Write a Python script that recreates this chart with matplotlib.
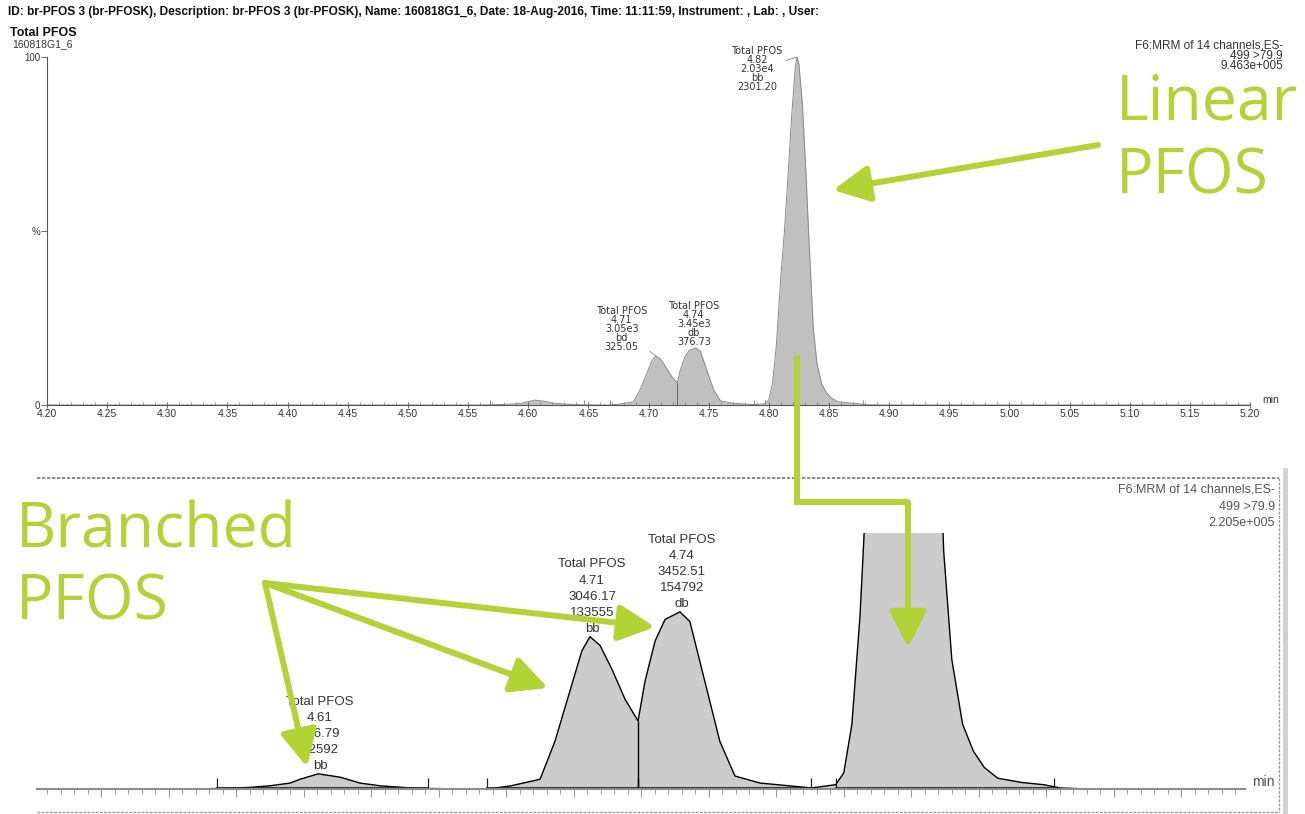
import numpy as np
import matplotlib
matplotlib.use("Agg")
from matplotlib import pyplot as plt
from matplotlib.ticker import MultipleLocator

# chromatogram trace, Total PFOS
rt = [4.20, 4.56, 4.568, 4.58, 4.5875, 4.595, 4.5986, 4.6053, 4.6134, 4.6208,
      4.6282, 4.6393, 4.646, 4.66, 4.668, 4.6764, 4.6875, 4.693, 4.6986, 4.703,
      4.706, 4.7097, 4.7141, 4.719, 4.7238, 4.7264, 4.7301, 4.7338, 4.7393, 4.743,
      4.7467, 4.7504, 4.7541, 4.7597, 4.769, 4.7838, 4.7882, 4.797, 4.800, 4.803,
      4.806, 4.808, 4.810, 4.813, 4.816, 4.819, 4.822, 4.8235, 4.825, 4.828,
      4.831, 4.833, 4.835, 4.837, 4.840, 4.844, 4.848, 4.852, 4.857, 4.866,
      4.874, 4.88, 4.89, 5.20]
pct = [0, 0, 0.05, 0.15, 0.3, 0.55, 0.9, 1.4, 1.1, 0.55,
       0.3, 0.1, 0.05, 0, 0, 0.28, 0.9, 4.4, 9.1, 12.8,
       14.1, 13.3, 11.1, 8.3, 6.3, 10.0, 13.7, 15.7, 16.4, 15.5,
       11.8, 8.1, 4.4, 1.2, 0.55, 0.2, 0.1, 0.4, 1.5, 6,
       16, 26, 37, 50, 66, 83, 97, 100, 98, 86,
       66, 50, 36, 22, 12, 6, 3.5, 2.0, 1.0, 0.6,
       0.4, 0.1, 0, 0]

# integration limits
peak_start = [4.568, 4.668, 4.7238, 4.797]
peak_end = [4.646, 4.7238, 4.788, 4.878]

# peak labels, full trace (peaks 2..4)
top_rt = ['4.71', '4.74', '4.82']
top_height = ['3.05e3', '3.45e3', '2.03e4']
top_code = ['bd', 'db', 'bb']
top_area = ['325.05', '376.73', '2301.20']

# peak labels, zoomed trace (peaks 1..3)
bot_rt = ['4.61', '4.71', '4.74']
bot_area = ['306.79', '3046.17', '3452.51']
bot_height = ['12592', '133555', '154792']
bot_code = ['bb', 'bb', 'db']

header = ('ID: br-PFOS 3 (br-PFOSK), Description: br-PFOS 3 (br-PFOSK), Name: 160818G1_6, '
          'Date: 18-Aug-2016, Time: 11:11:59, Instrument: , Lab: , User:')

green = '#b3d236'
W, H = 1305, 814
rt_a = np.array(rt)
pct_a = np.array(pct)


def fx(x):
    return x / W


def fy(y):
    return 1 - y / H


def apex(i):
    m = (rt_a >= peak_start[i]) & (rt_a <= peak_end[i])
    k = np.argmax(np.where(m, pct_a, -1))
    return rt_a[k], pct_a[k]


plt.rcParams['font.family'] = ['Liberation Sans', 'DejaVu Sans']
fig = plt.figure(figsize=(W / 100, H / 100), dpi=100)

# ---- full trace ----
ax = fig.add_axes([fx(47), fy(405), 1203 / W, 348 / H])
ax.fill_between(rt, pct, color='#c0c0c0', lw=0)
ax.plot(rt, pct, color='#8a8a8a', lw=0.7)
ax.set_xlim(4.20, 5.20)
ax.set_ylim(0, 100)
for s in ['top', 'right']:
    ax.spines[s].set_visible(False)
for s in ['left', 'bottom']:
    ax.spines[s].set_color('#555')
    ax.spines[s].set_linewidth(0.8)
ax.xaxis.set_major_locator(MultipleLocator(0.05))
ax.xaxis.set_minor_locator(MultipleLocator(0.01))
ax.xaxis.set_major_formatter(matplotlib.ticker.FormatStrFormatter('%.2f'))
ax.tick_params(axis='x', which='major', direction='inout', length=4, width=0.6,
               colors='#555', labelsize=7.5, labelcolor='#333', pad=1)
ax.tick_params(axis='x', which='minor', direction='in', length=2.5, width=0.5, colors='#777')
ax.set_yticks([0, 50, 100])
ax.set_yticklabels(['0', '%', '100'])
ax.tick_params(axis='y', direction='out', length=4, width=0.6, colors='#555',
               labelsize=7, labelcolor='#333', pad=1)
for a, b in zip(peak_start, peak_end):
    ax.vlines([a, b], 0, 1.5, color='#777', lw=0.6)
vt = 4.7238
ax.vlines(vt, 0, np.interp(vt, rt, pct), color='#666', lw=0.7)

top_off = [(-34, 4, True), (-2, 1, False), (-40, -35, True)]
for i in range(3):
    x0, y0 = apex(i + 1)
    dx, dy, lead = top_off[i]
    txt = '\n'.join(['Total PFOS', top_rt[i], top_height[i], top_code[i], top_area[i]])
    props = dict(arrowstyle='-', lw=0.5, color='#777', shrinkA=0, shrinkB=0) if lead else None
    ax.annotate(txt, xy=(x0, y0), xytext=(dx, dy), textcoords='offset pixels',
                ha='center', va='bottom', fontsize=7, family=['DejaVu Sans'],
                color='#333', linespacing=0.86, arrowprops=props)
ax.text(1.01, 0, 'min', transform=ax.transAxes, fontsize=7.5, color='#333',
        ha='left', va='bottom')

# ---- zoomed trace ----
bx = fig.add_axes([fx(37), fy(789), 1208 / W, 256 / H])
bx.fill_between(rt, pct, color='#cccccc', lw=0)
bx.plot(rt, pct, color='black', lw=1.0)
bx.set_xlim(4.50119, 4.94859)
bx.set_ylim(0, 23.7)
for s in ['top', 'right', 'left']:
    bx.spines[s].set_visible(False)
bx.spines['bottom'].set_color('#8c8c8c')
bx.spines['bottom'].set_linewidth(1.5)
bx.set_yticks([])
bx.xaxis.set_major_locator(MultipleLocator(0.025))
bx.xaxis.set_minor_locator(MultipleLocator(0.005))
bx.tick_params(axis='x', which='major', direction='out', length=6, width=0.8,
               colors='#999', labelbottom=False)
bx.tick_params(axis='x', which='minor', direction='out', length=3.5, width=0.7, colors='#999')
for a, b in zip(peak_start, peak_end):
    bx.plot([a, b], [0.08, 0.08], color='#222', lw=1.3, clip_on=False)
    bx.vlines([a, b], 0, 1.0, color='#222', lw=0.9)
bx.vlines(vt, 0, np.interp(vt, rt, pct), color='black', lw=1.0)
for i in range(3):
    x0, y0 = apex(i)
    txt = '\n'.join(['Total PFOS', bot_rt[i], bot_area[i], bot_height[i], bot_code[i]])
    bx.annotate(txt, xy=(x0, y0), xytext=(2, 2), textcoords='offset pixels',
                ha='center', va='bottom', fontsize=9.5, color='#333', linespacing=1.45)
bx.text(1.006, 0.0, 'min', transform=bx.transAxes, fontsize=10, color='#555',
        ha='left', va='bottom')

# ---- header texts ----
fig.text(fx(8), fy(12), header, fontsize=8.6, weight='bold', va='center', color='#111')
fig.text(fx(10), fy(33), 'Total PFOS', fontsize=9, weight='bold', va='center', color='#111')
fig.text(fx(12), fy(44), '160818G1_6', fontsize=7.5, va='center', color='#333')
fig.text(fx(1283), fy(40), 'F6:MRM of 14 channels,ES-\n499 >79.9\n9.463e+005',
         fontsize=8.5, ha='right', va='top', color='#333', linespacing=0.8)
fig.text(fx(1275), fy(484), 'F6:MRM of 14 channels,ES-\n499 >79.9\n2.205e+005',
         fontsize=9, ha='right', va='top', color='#555', linespacing=1.5)

# ---- overlay: panel frame and green callouts ----
ov = fig.add_axes([0, 0, 1, 1], facecolor='none')
ov.set_xlim(0, W)
ov.set_ylim(H, 0)
ov.axis('off')
ov.set_zorder(10)
ov.plot([37, 1279], [478, 478], color='#777', lw=1.2, ls=(0, (2, 1)))
ov.plot([37, 1279], [812, 812], color='#999', lw=1.0, ls=(0, (2, 1)))
ov.plot([1279, 1279], [478, 812], color='#999', lw=1.0, ls=(0, (2, 1)))
ov.plot([1285, 1285], [470, 814], color='#d0d0d0', lw=3.5)

callouts = [('Linear', 1116, 120), ('PFOS', 1116, 193),
            ('Branched', 16, 547), ('PFOS', 16, 620)]
for word, x, y in callouts:
    ov.text(x, y, word, fontsize=45, family=['Open Sans'], color=green,
            ha='left', va='baseline')

arrows = [
    [(1098, 145), (833, 190)],
    [(797, 355), (797, 502), (908, 502), (908, 648)],
    [(265, 583), (307, 767)],
    [(265, 583), (548, 688)],
    [(265, 583), (655, 627)],
]
for path in arrows:
    xs = [p[0] for p in path]
    ys = [p[1] for p in path]
    if len(path) > 2:
        ov.plot(xs[:-1], ys[:-1], color=green, lw=4.3, solid_joinstyle='miter',
                solid_capstyle='butt')
    ov.annotate('', xy=path[-1], xytext=path[-2],
                arrowprops=dict(arrowstyle='-|>,head_length=1.1,head_width=0.55',
                                mutation_scale=20, lw=4.3, color=green,
                                shrinkA=0, shrinkB=0))

fig.savefig('out.png', dpi=100)
